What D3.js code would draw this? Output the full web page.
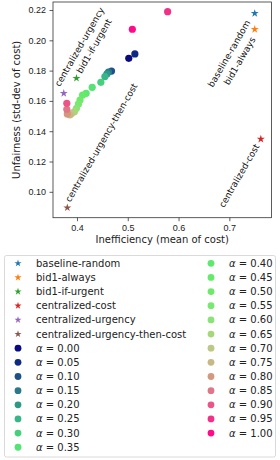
<!DOCTYPE html>
<html>
<head>
<meta charset="utf-8">
<script src="https://cdn.jsdelivr.net/npm/d3@7"></script>
<style>
  body { margin: 0; background: #fff; }
  svg { font-family: "DejaVu Sans", sans-serif; display: block; }
</style>
</head>
<body>
<div class="chart"></div>
<script>

// baseline methods (star markers)
var methods = ['baseline-random', 'bid1-always', 'bid1-if-urgent', 'centralized-cost',
        'centralized-urgency', 'centralized-urgency-then-cost']
var methodCost = [0.750, 0.750, 0.399, 0.762, 0.374, 0.381]
var methodStd = [0.2178, 0.2073, 0.175, 0.1348, 0.165, 0.0895]

// alpha sweep (circle markers)
var alphas = [0.00, 0.05, 0.10, 0.15, 0.20, 0.25, 0.30, 0.35, 0.40, 0.45, 0.50,
        0.55, 0.60, 0.65, 0.70, 0.75, 0.80, 0.85, 0.90, 0.95, 1.00]
var alphaCost = [0.502, 0.514, 0.468, 0.462, 0.459, 0.455, 0.447, 0.430, 0.418, 0.411, 0.406,
        0.403, 0.399, 0.395, 0.390, 0.386, 0.381, 0.380, 0.380, 0.5785, 0.509]
var alphaStd = [0.1881, 0.1910, 0.1797, 0.1791, 0.1778, 0.1761, 0.1723, 0.1690, 0.1650, 0.1639, 0.1606,
        0.1580, 0.1551, 0.1529, 0.1518, 0.1507, 0.1514, 0.1545, 0.1584, 0.2189, 0.2073]

var xTicks = [0.4, 0.5, 0.6, 0.7]
var yTicks = [0.10, 0.12, 0.14, 0.16, 0.18, 0.20, 0.22]

// colours
var methodColor = ['#1f77b4', '#ff7f0e', '#2ca02c', '#d62728', '#9467bd', '#8c564b']
var alphaColor = ['#0a0a80', '#0d2a82', '#1f5088', '#2a788a', '#2e9888', '#38b68a', '#46d07e',
        '#55e276', '#5ee86e', '#66ea6b', '#6eea6a', '#78e870', '#88e478', '#a6d87a',
        '#bcc886', '#c8b886', '#d4987e', '#e07688', '#ea5486', '#f23088', '#ff0a88']

// label nudges in px (annotation placement, per method)
var labelNudge = [[-4, 9], [1, 10], [5, -4], [-1, 7], [-4, -6], [3, -5]]

// MARGIN CONVENTION
var margin = {top: 2, right: 8.5, bottom: 242.3, left: 53}
var width = 280 - margin.left - margin.right
var height = 460 - margin.top - margin.bottom

var root = d3.select('.chart').append('svg')
    .attr('width', 280)
    .attr('height', 460)

var svg = root.append('g')
    .attr('transform', 'translate(' + margin.left + ',' + margin.top + ')')

var xScale = d3.scaleLinear()
    .domain([0.3528, 0.783])
    .range([0, width])

var yScale = d3.scaleLinear()
    .domain([0.0829, 0.2253])
    .range([height, 0])

var xAxis = d3.axisBottom(xScale).tickValues(xTicks).tickFormat(d3.format('.1f')).tickSize(3.5).tickPadding(3.5)
var yAxis = d3.axisLeft(yScale).tickValues(yTicks).tickFormat(d3.format('.2f')).tickSize(3.5).tickPadding(3.5)

var xAx = svg.append('g')
    .attr('transform', 'translate(0,' + height + ')')
    .call(xAxis)
var yAx = svg.append('g')
    .call(yAxis)

svg.selectAll('.domain').remove()
svg.selectAll('.tick line').attr('stroke', '#333').attr('stroke-width', 0.8)
svg.selectAll('.tick text').attr('fill', '#222').style('font-size', '9px')

// frame
svg.append('rect')
    .attr('x', 0).attr('y', 0)
    .attr('width', width).attr('height', height)
    .attr('fill', 'none')
    .attr('stroke', '#333')
    .attr('stroke-width', 0.8)

// axis labels
root.append('text')
    .attr('x', margin.left + width / 2)
    .attr('y', 243)
    .attr('text-anchor', 'middle')
    .style('font-size', '10px')
    .attr('fill', '#222')
    .text('Inefficiency (mean of cost)')

root.append('text')
    .attr('transform', 'translate(19.5,' + (margin.top + height / 2) + ') rotate(-90)')
    .attr('text-anchor', 'middle')
    .style('font-size', '10px')
    .attr('fill', '#222')
    .text('Unfairness (std-dev of cost)')

// alpha sweep points
var alphaData = alphas.map(function(a, i){ return {a: a, x: alphaCost[i], y: alphaStd[i], c: alphaColor[i]} })
svg.selectAll('circle.alpha').data(alphaData)
    .enter().append('circle')
    .attr('class', 'alpha')
    .attr('cx', function(d){ return xScale(d.x) })
    .attr('cy', function(d){ return yScale(d.y) })
    .attr('r', 3.6)
    .attr('fill', function(d){ return d.c })

// method stars
var methodData = methods.map(function(m, i){
    return {name: m, x: methodCost[i], y: methodStd[i], c: methodColor[i], n: labelNudge[i]}
})
var star = d3.symbol().type(d3.symbolStar).size(20)
svg.selectAll('path.method').data(methodData)
    .enter().append('path')
    .attr('class', 'method')
    .attr('d', star)
    .attr('transform', function(d){ return 'translate(' + xScale(d.x) + ',' + yScale(d.y) + ')' })
    .attr('fill', function(d){ return d.c })

// rotated annotations: right side labels end at the point, left side start at it
svg.selectAll('text.annot').data(methodData)
    .enter().append('text')
    .attr('class', 'annot')
    .attr('transform', function(d){
        var px = xScale(d.x) + d.n[0]
        var py = yScale(d.y) + d.n[1]
        return 'translate(' + px + ',' + py + ') rotate(-60)'
    })
    .attr('text-anchor', function(d){ return d.x > 0.6 ? 'end' : 'start' })
    .style('font-size', '9px')
    .attr('fill', '#111')
    .text(function(d){ return d.name })

// LEGEND
var leg = root.append('g')
leg.append('rect')
    .attr('x', 4.5).attr('y', 255.5)
    .attr('width', 271).attr('height', 201.5)
    .attr('rx', 2)
    .attr('fill', '#fff')
    .attr('stroke', '#d0d0d0')
    .attr('stroke-width', 0.8)

var legItems = methodData.map(function(d){ return {type: 'star', label: d.name, c: d.c} })
    .concat(alphaData.map(function(d){ return {type: 'circle', a: d.a, c: d.c} }))

var rowY = d3.scaleLinear().domain([0, 1]).range([263.3, 277.45])
var perCol = 14

var items = leg.selectAll('g.item').data(legItems)
    .enter().append('g')
    .attr('class', 'item')
    .attr('transform', function(d, i){
        var col = Math.floor(i / perCol)
        var row = i % perCol
        return 'translate(' + (col === 0 ? 18 : 211) + ',' + rowY(row) + ')'
    })

items.filter(function(d){ return d.type === 'star' })
    .append('path')
    .attr('d', d3.symbol().type(d3.symbolStar).size(16))
    .attr('fill', function(d){ return d.c })

items.filter(function(d){ return d.type === 'circle' })
    .append('circle')
    .attr('r', 3.4)
    .attr('fill', function(d){ return d.c })

var labels = items.append('text')
    .attr('x', 18)
    .attr('dy', '0.35em')
    .style('font-size', '10px')
    .attr('fill', '#222')

labels.filter(function(d){ return d.type === 'star' }).text(function(d){ return d.label })
labels.filter(function(d){ return d.type === 'circle' }).each(function(d){
    var t = d3.select(this)
    t.append('tspan').style('font-style', 'italic').text('\u03b1')
    t.append('tspan').text(' = ' + d3.format('.2f')(d.a))
})

</script>
</body>
</html>
